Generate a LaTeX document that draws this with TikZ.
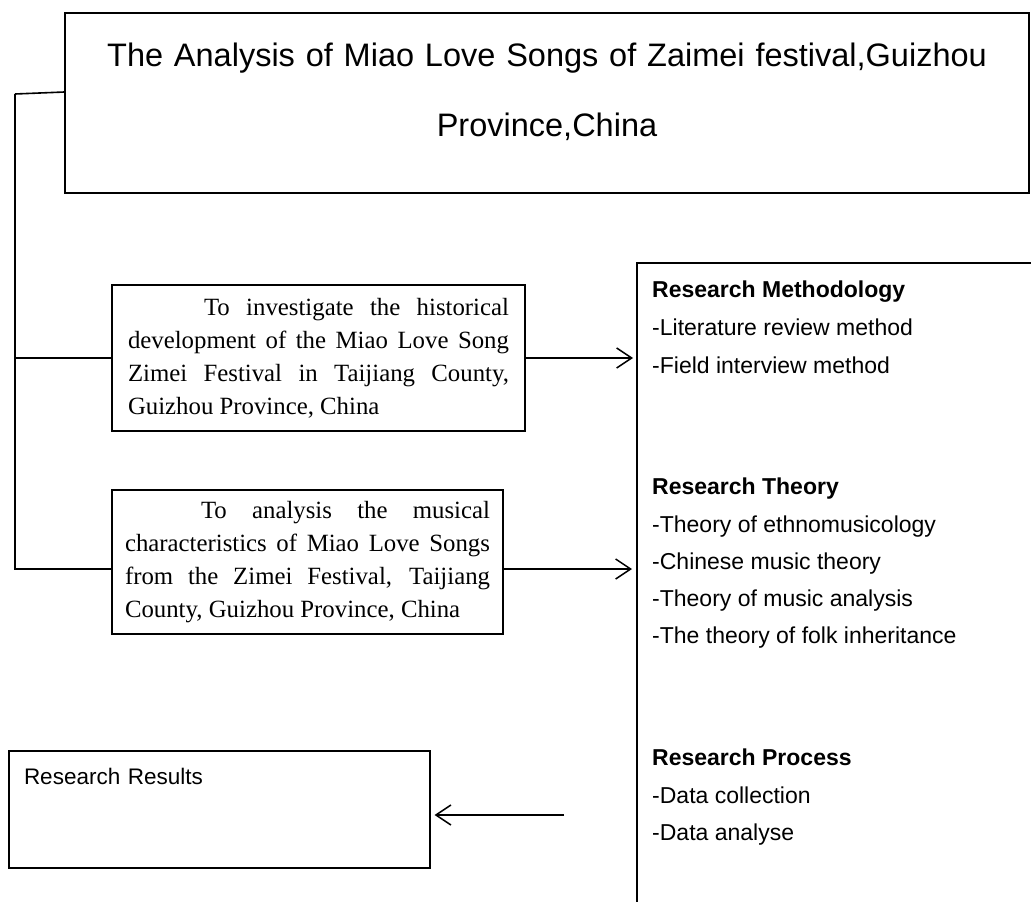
\documentclass[tikz,border=0pt]{standalone}
\usepackage{fontspec}
\setmainfont{Liberation Serif}
\newfontfamily\arialfont{Liberation Sans}
\usetikzlibrary{arrows.meta,positioning}
\tikzset{every node/.append style={transform shape=false}}
\tikzset{box/.style={draw, line width=1.2pt, inner sep=0pt}}

\begin{document}
\begin{tikzpicture}[x=1pt,y=-1pt,
  titlebox/.style={box, minimum width=964pt, minimum height=180pt, text width=940pt,
    align=center, font=\arialfont\fontsize{32.5}{70}\selectfont, text depth=96pt},
  aimbox/.style={box, align=justify, font=\fontsize{24.8}{33}\selectfont},
  resbox/.style={box, minimum width=421pt, minimum height=117pt, text width=391pt,
    align=left, font=\arialfont\fontsize{22.5}{30}\selectfont, text depth=67pt},
  item/.style={anchor=base west, inner sep=0pt, font=\arialfont\fontsize{23}{30}\selectfont},
  frame/.style={draw, line width=1.2pt},
  link/.style={line width=1.6pt},
  arr/.style={line width=1.5pt, -{Straight Barb[length=15pt,width=20pt]}}]
  \useasboundingbox (0,0) rectangle (1031,902);

  \node[titlebox] (title) at (547,103)
    {The Analysis of Miao Love Songs of Zaimei festival,Guizhou\\Province,China};

  \node[aimbox, text width=381pt, minimum width=413pt, minimum height=146pt] (aimA) at (318.5,358)
    {\hspace*{76pt}To investigate the historical\linebreak development of the Miao Love Song\linebreak
     Zimei Festival in Taijiang County,\linebreak Guizhou Province, China};
  \node[aimbox, text width=365pt, minimum width=391pt, minimum height=144pt] (aimB) at (307.5,562)
    {\hspace*{76pt}To analysis the musical\linebreak characteristics of Miao Love Songs\linebreak
     from the Zimei Festival, Taijiang\linebreak County, Guizhou Province, China};

  \node[resbox] (results) at (219.5,809.5) {Research Results};

  % open frame on the right
  \coordinate (rb) at (637,263);
  \draw[frame] (1031,263) -- (rb) -- (637,902);

  \foreach \yy/\txt [count=\i] in {297/\textbf{Research Methodology}, 335/-Literature review method,
      373/-Field interview method, 494/\textbf{Research Theory}, 532/-Theory of ethnomusicology,
      569/-Chinese music theory, 606/-Theory of music analysis, 643/-The theory of folk inheritance,
      765/\textbf{Research Process}, 803/-Data collection, 840/-Data analyse}
    \node[item] (item\i) at (652,\yy) {\txt};

  \coordinate (top) at (15,94);
  \draw[link] (top) -- ([yshift=11pt]title.west);
  \draw[link] (top) |- ([yshift=-7pt]aimB.west);
  \draw[link] (top |- aimA.west) -- (aimA.west);

  \draw[arr, shorten >=4pt] (aimA.east) -- (aimA.east -| rb);
  \draw[arr, shorten >=5pt] ([yshift=-7pt]aimB.east) -- ([yshift=-7pt]aimB.east -| rb);
  \coordinate (proc) at (564,815);
  \draw[arr, shorten >=4pt] (proc) -- (proc -| results.east);
\end{tikzpicture}
\end{document}
